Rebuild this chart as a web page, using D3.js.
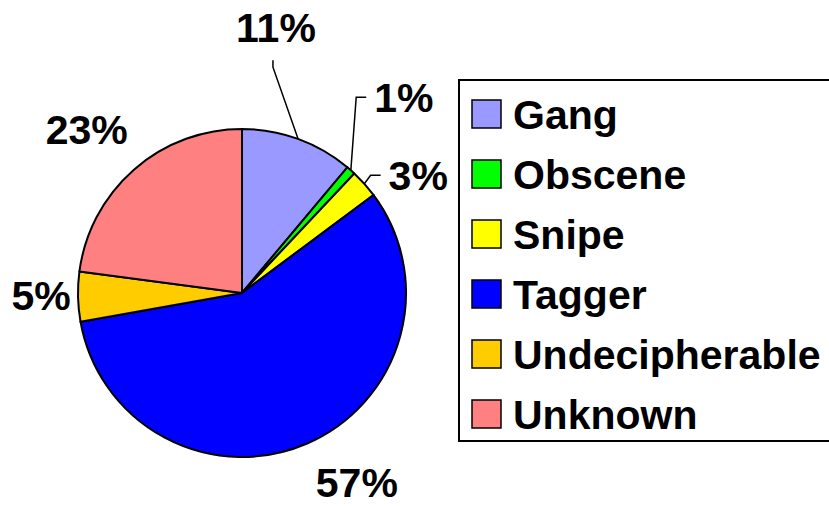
<!DOCTYPE html>
<html>
<head>
<meta charset="utf-8">
<script src="https://cdn.jsdelivr.net/npm/d3@7"></script>
<style>
  html, body { margin: 0; padding: 0; background: #fff; }
  svg { display: block; }
</style>
</head>
<body>
<svg id="chart"></svg>
<script>
// categories and shares (percent), clockwise from 12 o'clock
const categories = ["Gang", "Obscene", "Snipe", "Tagger", "Undecipherable", "Unknown"];
const shares = [11.1, 0.9, 2.8, 57.4, 4.9, 22.9];
const labels = ["11%", "1%", "3%", "57%", "5%", "23%"];
const colors = ["#9999ff", "#00ff00", "#ffff00", "#0000ff", "#ffcc00", "#ff8080"];

// label placement: angle nudge (deg) from slice middle, distance from centre, leader style
const labelLayout = [
    { dAngle: -12.7, r: 268, leader: "below" },
    { dAngle: -2.0, r: 254, leader: "left" },
    { dAngle: 8.0, r: 212, leader: "left" },
    { dAngle: -7.9, r: 221, leader: null },
    { dAngle: 0.7, r: 201, leader: null },
    { dAngle: -2.2, r: 226, leader: null }
];

const width = 829, height = 506;
const cx = 242, cy = 293, radius = 164;
const fontSize = 41;

const data = categories.map((name, i) => ({ name, value: shares[i], label: labels[i], color: colors[i], layout: labelLayout[i] }));

const svg = d3.select("#chart")
    .attr("width", width)
    .attr("height", height)
    .style("font-family", "'Liberation Sans', Arial, sans-serif")
    .style("font-weight", "bold");

const pie = d3.pie().sort(null).value(d => d.value);
const arc = d3.arc().innerRadius(0).outerRadius(radius);
const arcs = pie(data);

const g = svg.append("g").attr("transform", `translate(${cx},${cy})`);

// slices
g.append("g")
    .attr("stroke", "#000")
    .attr("stroke-width", 2)
    .attr("stroke-linejoin", "round")
  .selectAll("path")
  .data(arcs)
  .join("path")
    .attr("fill", d => d.data.color)
    .attr("d", arc);

const polar = (angle, r) => [Math.sin(angle) * r, -Math.cos(angle) * r];

// labels
arcs.forEach(d => {
    const mid = (d.startAngle + d.endAngle) / 2;
    const lay = d.data.layout;
    const [lx, ly] = polar(mid + lay.dAngle * Math.PI / 180, lay.r);

    const text = g.append("text")
        .attr("x", lx)
        .attr("y", ly + fontSize * 0.358)
        .attr("text-anchor", "middle")
        .attr("font-size", fontSize)
        .attr("fill", "#000")
        .text(d.data.label);

    if (lay.leader) {
        const box = text.node().getBBox();
        const start = polar(mid, radius);
        let pts;
        if (lay.leader === "below") {
            const x = lx - 3;
            pts = [start, [x, ly + 40], [x, ly + 33]];
        } else {
            const left = box.x;
            pts = [start, [left - 18, ly], [left - 8, ly]];
        }
        g.append("path")
            .attr("d", d3.line()(pts))
            .attr("fill", "none")
            .attr("stroke", "#000")
            .attr("stroke-width", 1.5);
    }
});

// legend
const legend = svg.append("g");
legend.append("rect")
    .attr("x", 459)
    .attr("y", 80)
    .attr("width", 400)
    .attr("height", 361)
    .attr("fill", "#fff")
    .attr("stroke", "#000")
    .attr("stroke-width", 2);

const legendY = d3.scalePoint()
    .domain(categories)
    .range([114, 414]);

const item = legend.selectAll("g.item")
  .data(data)
  .join("g")
    .attr("class", "item")
    .attr("transform", d => `translate(472,${legendY(d.name)})`);

item.append("rect")
    .attr("x", 0)
    .attr("y", -14)
    .attr("width", 29)
    .attr("height", 28)
    .attr("fill", d => d.color)
    .attr("stroke", "#000")
    .attr("stroke-width", 1.5);

item.append("text")
    .attr("x", 41)
    .attr("y", 15)
    .attr("font-size", fontSize)
    .attr("fill", "#000")
    .text(d => d.name);
</script>
</body>
</html>
